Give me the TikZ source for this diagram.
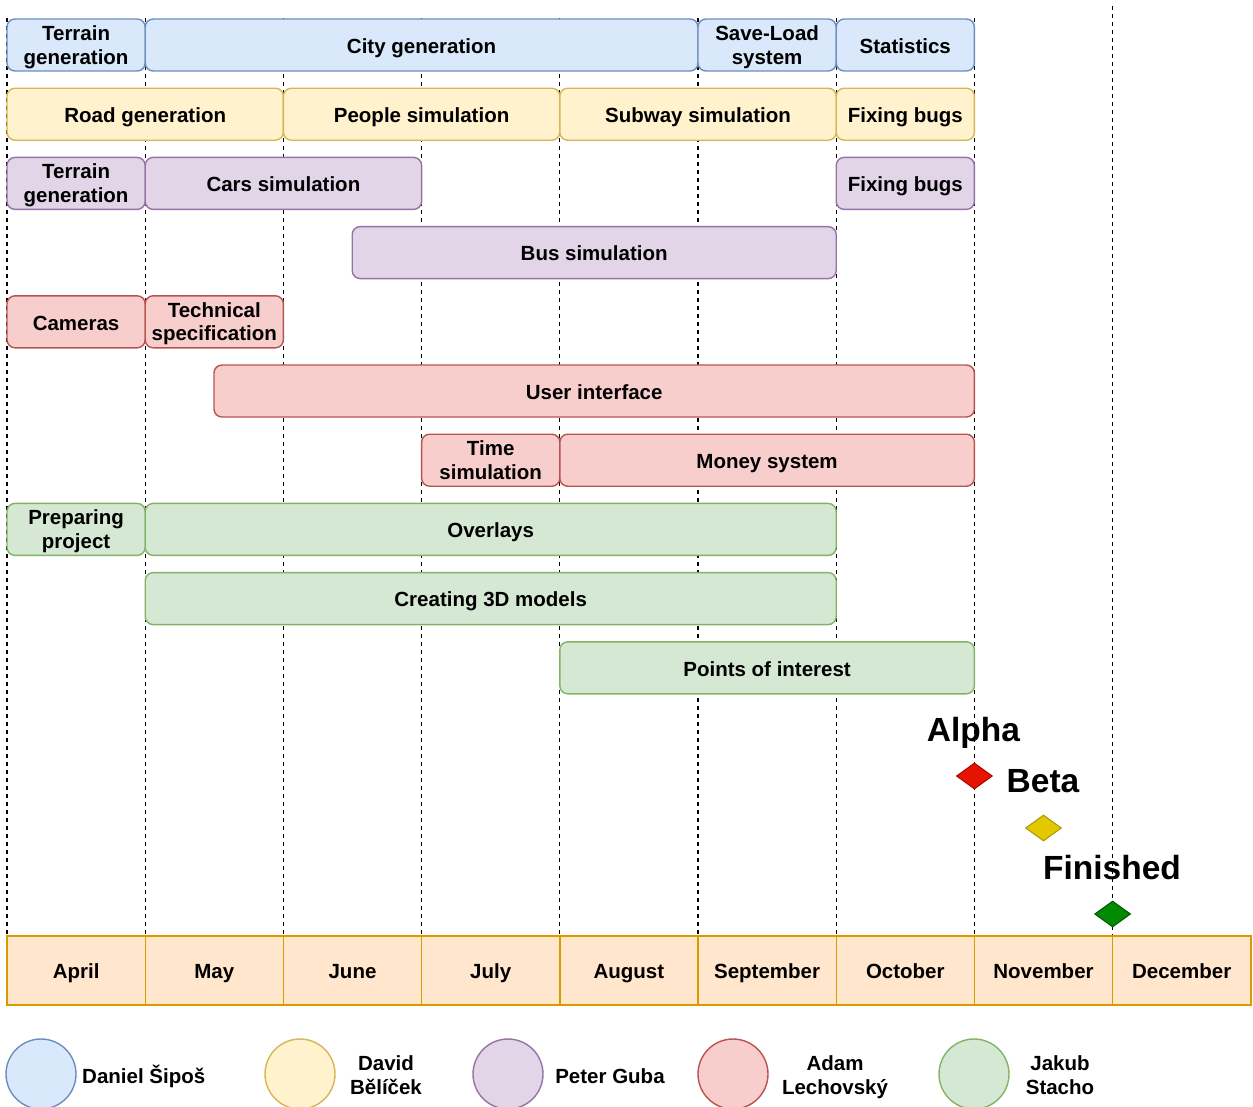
\documentclass[tikz,border=0pt]{standalone}
\usepackage{fontspec}
\setmainfont{Liberation Sans}
\usetikzlibrary{shapes.geometric}
\definecolor{bluef}{HTML}{DAE8FC}\definecolor{blued}{HTML}{6C8EBF}
\definecolor{yelf}{HTML}{FFF2CC}\definecolor{yeld}{HTML}{D6B656}
\definecolor{purf}{HTML}{E1D5E7}\definecolor{purd}{HTML}{9673A6}
\definecolor{redf}{HTML}{F8CECC}\definecolor{redd}{HTML}{B85450}
\definecolor{grnf}{HTML}{D5E8D4}\definecolor{grnd}{HTML}{82B366}
\definecolor{monf}{HTML}{FFE6CC}\definecolor{mond}{HTML}{D79B00}
\definecolor{msr}{HTML}{E51400}\definecolor{msrd}{HTML}{B20000}
\definecolor{msy}{HTML}{E3C800}\definecolor{msyd}{HTML}{B09500}
\definecolor{msg}{HTML}{008A00}\definecolor{msgd}{HTML}{005700}
\begin{document}
\begin{tikzpicture}[x=1pt,y=-1pt,
  lbl/.style={font=\fontsize{20.5}{23.5}\selectfont\bfseries, align=center, text=black},
  one/.style={text height=19pt, text depth=2.4pt},
  two/.style={text height=40.7pt, text depth=2.7pt},
  bar/.style={lbl, rounded corners=8pt, line width=1.4pt, minimum height=52pt, inner sep=0pt, one},
  bl/.style={bar, fill=bluef, draw=blued},
  yl/.style={bar, fill=yelf, draw=yeld},
  pu/.style={bar, fill=purf, draw=purd},
  rd/.style={bar, fill=redf, draw=redd},
  gr/.style={bar, fill=grnf, draw=grnd},
  month/.style={lbl, one, fill=monf, draw=mond, line width=1.4pt, minimum width=138.2pt, minimum height=69pt, inner sep=0pt},
  grid/.style={line width=1.3pt, dash pattern=on 4pt off 4pt},
  ms/.style={diamond, aspect=1.4, minimum width=36pt, minimum height=26pt, inner sep=0pt, line width=1pt},
  mslbl/.style={font=\fontsize{33.5}{38}\selectfont\bfseries, inner sep=0pt, anchor=base},
  leg/.style={circle, minimum size=70pt, inner sep=0pt, line width=1.4pt},
  legt/.style={lbl, inner sep=0pt}
]
\useasboundingbox (0,0) rectangle (1253,1106);
% grid lines
\foreach \x in {7,145.2,283.4,421.6,559.8,698,836.2,974.4} {\draw[grid] (\x,18) -- (\x,936);}
\draw[grid] (1112.6,6) -- (1112.6,936);
% row 1
\node[bl, two, minimum width=138.2pt] (t1) at (76.1,45) {Terrain\\generation};
\node[bl, minimum width=552.8pt] (cg) at (421.6,45) {City generation};
\node[bl, two, minimum width=138.2pt] (sl) at (767.1,45) {Save-Load\\system};
\node[bl, minimum width=138.2pt] (st) at (905.3,45) {Statistics};
% row 2
\node[yl, minimum width=276.4pt] (rg) at (145.2,114.2) {Road generation};
\node[yl, minimum width=276.4pt] (ps) at (421.6,114.2) {People simulation};
\node[yl, minimum width=276.4pt] (ss) at (698,114.2) {Subway simulation};
\node[yl, minimum width=138.2pt] (fb1) at (905.3,114.2) {Fixing bugs};
% row 3
\node[pu, two, minimum width=138.2pt] (t2) at (76.1,183.4) {Terrain\\generation};
\node[pu, minimum width=276.4pt] (cs) at (283.4,183.4) {Cars simulation};
\node[pu, minimum width=138.2pt] (fb2) at (905.3,183.4) {Fixing bugs};
% row 4
\node[pu, minimum width=484pt] (bs) at (594.2,252.6) {Bus simulation};
% row 5
\node[rd, minimum width=138.2pt] (cam) at (76.1,321.8) {Cameras};
\node[rd, two, minimum width=138.2pt] (ts) at (214.3,321.8) {Technical\\specification};
% row 6
\node[rd, minimum width=760.4pt] (ui) at (594.2,391) {User interface};
% row 7
\node[rd, two, minimum width=138.2pt] (tim) at (490.7,460.2) {Time\\simulation};
\node[rd, minimum width=414.6pt] (mon) at (767.1,460.2) {Money system};
% row 8
\node[gr, two, minimum width=138.2pt] (pp) at (76.1,529.4) {Preparing\\project};
\node[gr, minimum width=691pt] (ov) at (490.7,529.4) {Overlays};
% row 9
\node[gr, minimum width=691pt] (c3) at (490.7,598.6) {Creating 3D models};
% row 10
\node[gr, minimum width=414.6pt] (poi) at (767.1,667.8) {Points of interest};
% milestones
\node[mslbl] (alpha) at (973.5,741) {Alpha};
\node[ms, fill=msr, draw=msrd] (da) at (974.4,776) {};
\node[mslbl] (beta) at (1043,792) {Beta};
\node[ms, fill=msy, draw=msyd] (db) at (1043.5,828) {};
\node[mslbl] (fin) at (1112,879) {Finished};
\node[ms, fill=msg, draw=msgd] (df) at (1112.6,914) {};
% months
\foreach \m [count=\i from 0] in {April,May,June,July,August,September,October,November,December}
  {\node[month] (m\i) at (76.1+\i*138.2,970.5) {\m};}
% legend
\node[leg, fill=bluef, draw=blued] (c1) at (41,1074) {};
\node[legt, anchor=base west] (n1) at (82,1083) {Daniel Šipoš};
\node[leg, fill=yelf, draw=yeld] (c2) at (300,1074) {};
\node[legt, anchor=base] (n2) at (386,1094) {David\\Bělíček};
\node[leg, fill=purf, draw=purd] (c3l) at (508,1074) {};
\node[legt, anchor=base] (n3) at (610,1083) {Peter Guba};
\node[leg, fill=redf, draw=redd] (c4) at (733,1074) {};
\node[legt, anchor=base] (n4) at (835,1094) {Adam\\Lechovský};
\node[leg, fill=grnf, draw=grnd] (c5) at (974,1074) {};
\node[legt, anchor=base] (n5) at (1060,1094) {Jakub\\Stacho};
\end{tikzpicture}
\end{document}
